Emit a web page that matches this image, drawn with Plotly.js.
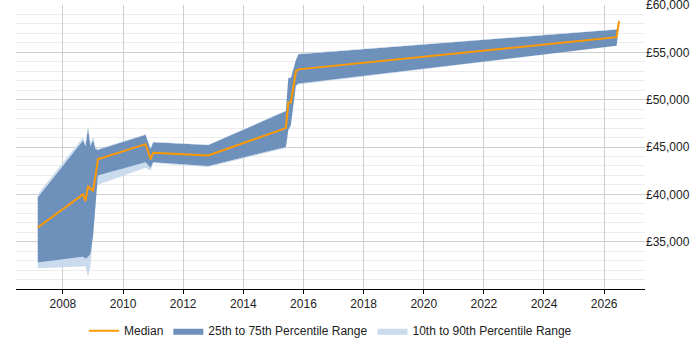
<!DOCTYPE html>
<html>
<head>
<meta charset="utf-8">
<script src="https://cdn.plot.ly/plotly-3.0.1.min.js"></script>
<style>
  html, body { margin: 0; padding: 0; background: #fff; }
  #chart { width: 700px; height: 350px; }
</style>
</head>
<body>
<div id="chart"></div>
<script>
// Sample dates (month resolution)
const dates = [
  "2007-03-01", "2008-09-01", "2008-10-01", "2008-11-01", "2008-12-01",
  "2009-01-01", "2009-02-01", "2009-03-01", "2010-10-01", "2010-12-01",
  "2011-01-01", "2012-11-01", "2015-06-01", "2015-07-01", "2015-08-01",
  "2015-09-01", "2015-10-01", "2015-11-01", "2026-06-01", "2026-07-01"
];

// Salary percentiles (GBP)
const p10 = [
  32200, 32400, 32400, 31300, 32400,
  35800, 40000, 41000, 42800, 42500,
  43300, 42900, 44900, 46700, 47200,
  49400, 51400, 51600, 55700, 57900
];
const p25 = [
  32800, 33400, 33200, 33400, 33700,
  35600, 39000, 42000, 43400, 42800,
  43400, 43000, 45000, 46800, 47300,
  49500, 51500, 51700, 55700, 58000
];
const median = [
  36500, 40000, 39300, 40900, 40600,
  40400, 42000, 43700, 45300, 43700,
  44400, 44100, 47000, 49700, 49700,
  51500, 53000, 53200, 56600, 58300
];
const p75 = [
  39700, 45700, 45100, 47000, 45100,
  45800, 44800, 44700, 46300, 44800,
  45500, 45200, 48800, 52300, 52300,
  53300, 54200, 54800, 57400, 58500
];
const p90 = [
  40000, 46000, 45400, 47300, 45400,
  46100, 45000, 44800, 46350, 44850,
  45550, 45250, 48850, 52350, 52350,
  53350, 54250, 54850, 57450, 58700
];

// Salary axis ticks
const salaryTicks = [35000, 40000, 45000, 50000, 55000, 60000];
const salaryTickText = ["£35,000", "£40,000", "£45,000", "£50,000", "£55,000", "£60,000"];

const darkBand = "rgb(110,145,187)";
const lightBand = "rgb(202,219,238)";
const orange = "#ff9900";

const traces = [
  { x: dates, y: p10, type: "scatter", mode: "lines",
    line: { width: 0 }, hoverinfo: "skip", showlegend: false },
  { x: dates, y: p25, type: "scatter", mode: "lines",
    line: { width: 0 }, fill: "tonexty", fillcolor: lightBand,
    name: "10th to 90th Percentile Range", legendgroup: "p1090",
    legendrank: 3 },
  { x: dates, y: p75, type: "scatter", mode: "lines",
    line: { width: 0 }, fill: "tonexty", fillcolor: darkBand,
    name: "25th to 75th Percentile Range", legendrank: 2 },
  { x: dates, y: p90, type: "scatter", mode: "lines",
    line: { width: 0 }, fill: "tonexty", fillcolor: lightBand,
    legendgroup: "p1090", showlegend: false },
  { x: dates, y: median, type: "scatter", mode: "lines",
    line: { color: orange, width: 2 }, name: "Median", legendrank: 1 }
];

const layout = {
  width: 700, height: 350,
  margin: { l: 16, r: 55, t: 5, b: 59 },
  paper_bgcolor: "#fff", plot_bgcolor: "#fff",
  font: { family: "Liberation Sans, Arial, sans-serif", size: 12, color: "#222" },
  showlegend: true,
  legend: {
    orientation: "h", x: 0.5, xanchor: "center", y: -0.147, yanchor: "middle",
    font: { size: 12, color: "#222" }, traceorder: "normal"
  },
  xaxis: {
    type: "date",
    range: ["2006-06-10", "2027-05-12"],
    tick0: "2008-01-01", dtick: "M24", tickformat: "%Y",
    showgrid: true, gridcolor: "#cfcfcf", gridwidth: 1,
    showline: true, linecolor: "#000", linewidth: 1,
    ticks: "outside", ticklen: 4, tickcolor: "#000",
    zeroline: false, fixedrange: true
  },
  yaxis: {
    side: "right",
    range: [30000, 60000],
    tickmode: "array", tickvals: salaryTicks, ticktext: salaryTickText,
    ticklabeloverflow: "allow",
    showgrid: true, gridcolor: "#cfcfcf", gridwidth: 1,
    minor: { dtick: 1000, tick0: 30000, showgrid: true, gridcolor: "#ececec", gridwidth: 1 },
    showline: false, zeroline: false, ticks: "",
    fixedrange: true
  }
};

Plotly.newPlot("chart", traces, layout, { staticPlot: true, displayModeBar: false });
</script>
</body>
</html>
